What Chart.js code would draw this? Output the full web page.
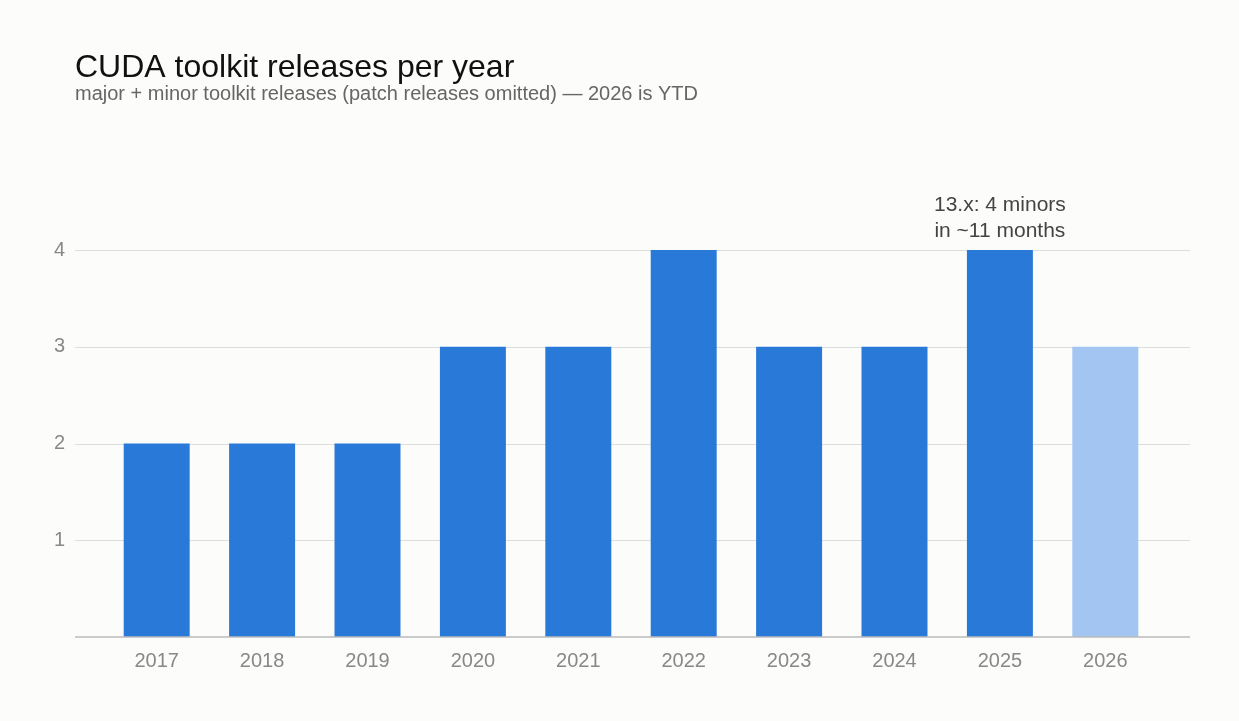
<!DOCTYPE html>
<html>
<head>
<meta charset="utf-8">
<script src="https://cdn.jsdelivr.net/npm/chart.js@4"></script>
<style>
  html, body { margin: 0; padding: 0; background: #fcfcfa; }
  canvas { display: block; }
</style>
</head>
<body>
<canvas id="chart" width="1239" height="721"></canvas>
<script>
// data
const years = ['2017', '2018', '2019', '2020', '2021', '2022', '2023', '2024', '2025', '2026'];
const releases = [2, 2, 2, 3, 3, 4, 3, 3, 4, 3];
const barColors = ['#2979d8', '#2979d8', '#2979d8', '#2979d8', '#2979d8', '#2979d8', '#2979d8', '#2979d8', '#2979d8', '#a2c5f2'];
const yTicks = [1, 2, 3, 4];
const titleText = 'CUDA toolkit releases per year';
const subtitleText = 'major + minor toolkit releases (patch releases omitted) \u2014 2026 is YTD';
const noteLines = ['13.x: 4 minors', 'in ~11 months'];
const noteIndex = 8;

const FONT = '"Liberation Sans", Arial, sans-serif';

// background, gridlines, titles and note
const decor = {
    id: 'decor',
    beforeDraw(chart) {
        const c = chart.ctx;
        c.save();
        c.fillStyle = '#fcfcfa';
        c.fillRect(0, 0, chart.width, chart.height);
        const y = chart.scales.y;
        c.strokeStyle = '#dddddd';
        c.lineWidth = 1;
        yTicks.forEach(v => {
            const py = Math.round(y.getPixelForValue(v)) + 0.5;
            c.beginPath(); c.moveTo(75, py); c.lineTo(1190, py); c.stroke();
        });
        c.restore();
    },
    afterDraw(chart) {
        const c = chart.ctx;
        const x = chart.scales.x, y = chart.scales.y;
        c.save();
        // axis line
        c.strokeStyle = '#bbbbbb';
        c.lineWidth = 1.5;
        const by = y.getPixelForValue(0);
        c.beginPath(); c.moveTo(75, by); c.lineTo(1190, by); c.stroke();
        // titles
        c.textAlign = 'left';
        c.textBaseline = 'alphabetic';
        c.fillStyle = '#111111';
        c.font = '32px ' + FONT;
        c.fillText(titleText, 75, 77);
        c.fillStyle = '#666666';
        c.font = '20px ' + FONT;
        c.fillText(subtitleText, 75, 100);
        // note
        c.fillStyle = '#444444';
        c.font = '21px ' + FONT;
        c.textAlign = 'center';
        c.textBaseline = 'middle';
        const nx = x.getPixelForValue(noteIndex);
        const ny = y.getPixelForValue(releases[noteIndex]);
        c.fillText(noteLines[0], nx, ny - 45);
        c.fillText(noteLines[1], nx, ny - 19);
        c.restore();
    }
};

const ctx = document.getElementById('chart').getContext('2d');
new Chart(ctx, {
    type: 'bar',
    data: {
        labels: years,
        datasets: [{
            data: releases,
            backgroundColor: barColors,
            borderWidth: 0,
            categoryPercentage: 1,
            barPercentage: 0.626
        }]
    },
    options: {
        responsive: false,
        animation: false,
        layout: { padding: { top: 250, right: 81, left: 0, bottom: 0 } },
        plugins: { legend: { display: false }, tooltip: { enabled: false } },
        scales: {
            x: {
                grid: { display: false, drawTicks: false },
                border: { display: false },
                ticks: { color: '#888888', font: { size: 20, family: FONT }, padding: 12 },
                afterFit(s) { s.height = 84; }
            },
            y: {
                min: 0,
                max: 4,
                grid: { display: false, drawTicks: false },
                border: { display: false },
                afterBuildTicks(s) { s.ticks = yTicks.map(v => ({ value: v })); },
                ticks: { color: '#888888', font: { size: 20, family: FONT }, padding: 39 },
                afterFit(s) { s.width = 104; }
            }
        }
    },
    plugins: [decor]
});
</script>
</body>
</html>
